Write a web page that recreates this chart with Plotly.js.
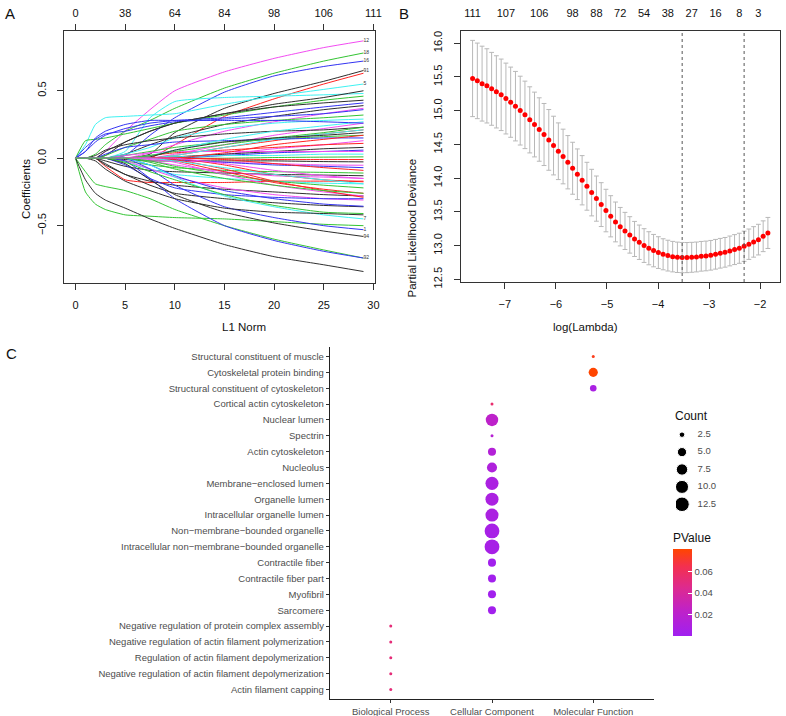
<!DOCTYPE html>
<html>
<head>
<meta charset="utf-8">
<script src="https://cdn.plot.ly/plotly-3.0.1.min.js"></script>
<style>html,body{margin:0;padding:0;background:#fff;}#chart{width:786px;height:716px;}</style>
</head>
<body>
<div id="chart"></div>
<script>
// ---------------- Panel A: lasso coefficient paths ----------------
const l1Norm = [0, 1, 2, 3, 5, 7.5, 10, 15, 20, 25, 29];
const coefPaths = [
  [0,0,0,0.05,0.2,0.36,0.5,0.64,0.74,0.82,0.87],
  [0,0,0.03,0.1,0.2,0.28,0.37,0.52,0.63,0.72,0.78],
  [0,0,0,0,0.02,0.17,0.3,0.49,0.61,0.68,0.72],
  [0,0,0,0,0,0.03,0.19,0.37,0.48,0.57,0.65],
  [0,0,0,0,0,0,0.1,0.31,0.44,0.55,0.63],
  [0,0.1,0.25,0.3,0.31,0.32,0.33,0.4,0.46,0.51,0.55],
  [0,0,0,0,0.05,0.3,0.42,0.45,0.46,0.47,0.48],
  [0,0,0,0.02,0.12,0.2,0.26,0.33,0.4,0.45,0.5],
  [0,0.13,0.14,0.15,0.18,0.22,0.26,0.32,0.38,0.43,0.46],
  [0,0.05,0.12,0.17,0.22,0.26,0.28,0.3,0.34,0.38,0.41],
  [0,0,0,0,0.03,0.1,0.16,0.25,0.31,0.36,0.39],
  [0,0,0,0,0,0.04,0.1,0.2,0.27,0.33,0.37],
  [0,0.08,0.14,0.18,0.2,0.24,0.27,0.29,0.31,0.33,0.36],
  [0,0,0,0.02,0.08,0.14,0.2,0.25,0.28,0.3,0.32],
  [0,0,0,0,0.03,0.08,0.15,0.22,0.26,0.28,0.29],
  [0,0,0,0,0,0,0.03,0.1,0.17,0.22,0.26],
  [0,0,0.02,0.06,0.1,0.13,0.15,0.18,0.2,0.21,0.23],
  [0,0,0,0,0,0,0.02,0.08,0.13,0.18,0.21],
  [0,0,0,0,0.02,0.05,0.08,0.12,0.14,0.16,0.17],
  [0,0,0,0.03,0.08,0.1,0.12,0.13,0.14,0.15,0.15],
  [0,0,0,0,0,0,0,0.03,0.07,0.1,0.13],
  [0,0,0,0,0,0.02,0.04,0.06,0.08,0.1,0.11],
  [0,0,0,0,0,0,0.01,0.03,0.05,0.07,0.08],
  [0,0,0,0,0,0,0,0.02,0.04,0.05,0.06],
  [0,0,0,0,0.02,0.04,0.05,0.05,0.05,0.05,0.05],
  [0,0,0,0,0,0,0.01,0.02,0.02,0.03,0.03],
  [0,0,0,0,0,0,0,0,0.005,0.008,0.01],
  [0,0,0,0.05,0.12,0.2,0.26,0.33,0.38,0.41,0.43],
  [0,0,0,0,0,0.02,0.06,0.14,0.2,0.24,0.27],
  [0,0.05,0.15,0.2,0.25,0.28,0.28,0.28,0.28,0.27,0.26],
  [0,0,0,0,0,0,0.02,0.08,0.14,0.18,0.21],
  [0,0,0,0,0,0.02,0.05,0.1,0.15,0.19,0.23],
  [0,0,0,0,0,0,0,0.04,0.1,0.14,0.17],
  [0,0,0,0,0,0.01,0.06,0.12,0.15,0.17,0.19],
  [0,0,0,0,0,0,0,-0.005,-0.01,-0.01,-0.01],
  [0,0,0,0,-0.01,-0.02,-0.02,-0.02,-0.02,-0.025,-0.027],
  [0,0,0,0,0,-0.01,-0.02,-0.03,-0.04,-0.05,-0.052],
  [0,0,0,0,0,0,-0.01,-0.03,-0.05,-0.06,-0.07],
  [0,0,0,0,0,0,0,-0.01,-0.04,-0.07,-0.09],
  [0,0,0,0,-0.02,-0.05,-0.07,-0.09,-0.1,-0.105,-0.11],
  [0,0,0,-0.02,-0.06,-0.09,-0.1,-0.11,-0.12,-0.125,-0.13],
  [0,0,0,-0.06,-0.16,-0.18,-0.18,-0.18,-0.17,-0.17,-0.17],
  [0,0,0,0,0,-0.02,-0.05,-0.1,-0.13,-0.14,-0.15],
  [0,0,0,0,0,0,0,-0.05,-0.12,-0.16,-0.175],
  [0,0,0,0,-0.03,-0.08,-0.12,-0.15,-0.17,-0.185,-0.19],
  [0,0,0,0,0,-0.02,-0.06,-0.12,-0.17,-0.2,-0.22],
  [0,0,0,0,0,0,-0.02,-0.1,-0.18,-0.23,-0.26],
  [0,0,0,-0.04,-0.12,-0.17,-0.2,-0.23,-0.25,-0.27,-0.28],
  [0,0,0,0,-0.02,-0.08,-0.14,-0.22,-0.27,-0.3,-0.31],
  [0,0,0,0,-0.05,-0.15,-0.22,-0.27,-0.29,-0.3,-0.3],
  [0,0,0,-0.05,-0.12,-0.2,-0.26,-0.3,-0.33,-0.35,-0.36],
  [0,0,0,0,0,-0.05,-0.13,-0.24,-0.3,-0.34,-0.356],
  [0,-0.1,-0.19,-0.21,-0.24,-0.3,-0.38,-0.5,-0.6,-0.68,-0.74],
  [0,-0.25,-0.34,-0.38,-0.42,-0.43,-0.44,-0.45,-0.47,-0.49,-0.5],
  [0,-0.16,-0.26,-0.31,-0.37,-0.45,-0.52,-0.64,-0.73,-0.79,-0.84],
  [0,0,0,0,-0.02,-0.15,-0.3,-0.5,-0.61,-0.69,-0.74],
  [0,0,0,0,-0.04,-0.16,-0.27,-0.4,-0.48,-0.54,-0.58],
  [0,0,0,0,0,-0.08,-0.2,-0.36,-0.44,-0.5,-0.53],
  [0,0,0,0,0,-0.05,-0.14,-0.28,-0.36,-0.42,-0.45],
  [0,0,-0.02,-0.08,-0.17,-0.24,-0.3,-0.37,-0.4,-0.41,-0.42],
  [0,0,0,0,0,0,-0.03,-0.12,-0.2,-0.25,-0.28],
  [0,0,0,0,-0.03,-0.1,-0.16,-0.27,-0.35,-0.4,-0.41],
  [0,0,0,0,0,0,-0.01,-0.08,-0.17,-0.24,-0.29],
  [0,0,0,0,0,0,-0.02,-0.07,-0.12,-0.16,-0.19],
  [0,0,0,0,0,0,0,-0.04,-0.09,-0.13,-0.15],
  [0,0,0,0,0,-0.03,-0.08,-0.15,-0.2,-0.24,-0.26]
];
const pathColorIdx = [5,2,3,0,1,4,4,0,2,3,0,5,3,2,4,5,0,1,2,3,5,1,0,3,5,4,2,0,4,3,4,2,1,0,
                      1,0,5,3,1,2,0,1,5,1,4,2,1,0,5,3,0,3,2,2,0,3,0,3,4,0,5,2,1,4,5,2];
const pathEndLabels = ['12','18','16','91','','5','','','','','','','','','','','','','','','','','','','','','','','','','','','','',
                       '','','','','','','','','','','','','','','','','','','','','','92','94','1','7','','','','','','','',''];
const topDfA = ['0','38','64','84','98','106','111'];
const topDfAPos = [0, 5, 10, 15, 20, 25, 30];

// ---------------- Panel B: cross-validation curve ----------------
const logLambda = [-7.633,-7.540,-7.447,-7.353,-7.260,-7.167,-7.073,-6.980,-6.887,-6.793,
  -6.700,-6.607,-6.513,-6.420,-6.327,-6.233,-6.140,-6.047,-5.953,-5.860,
  -5.767,-5.673,-5.580,-5.487,-5.393,-5.300,-5.207,-5.113,-5.020,-4.927,
  -4.833,-4.740,-4.647,-4.553,-4.460,-4.367,-4.273,-4.180,-4.087,-3.993,
  -3.900,-3.807,-3.713,-3.620,-3.527,-3.433,-3.340,-3.247,-3.153,-3.060,
  -2.967,-2.873,-2.780,-2.687,-2.593,-2.500,-2.407,-2.313,-2.220,-2.127,
  -2.033,-1.940,-1.847];
const deviance = [15.476,15.441,15.400,15.367,15.323,15.278,15.234,15.179,15.125,15.066,
  15.000,14.937,14.863,14.794,14.720,14.646,14.566,14.482,14.398,14.320,
  14.235,14.146,14.057,13.968,13.879,13.785,13.696,13.607,13.519,13.434,
  13.350,13.280,13.217,13.158,13.098,13.049,13.000,12.960,12.925,12.896,
  12.871,12.851,12.836,12.826,12.822,12.822,12.826,12.831,12.841,12.846,
  12.856,12.871,12.886,12.900,12.920,12.940,12.960,12.990,13.020,13.054,
  13.088,13.138,13.187];
const devianceSd = [0.565,0.560,0.555,0.550,0.540,0.535,0.530,0.525,0.520,0.515,
  0.510,0.500,0.490,0.480,0.470,0.460,0.450,0.435,0.420,0.405,
  0.395,0.385,0.375,0.365,0.355,0.345,0.335,0.325,0.315,0.305,
  0.295,0.285,0.275,0.270,0.260,0.255,0.250,0.245,0.240,0.235,
  0.230,0.228,0.226,0.225,0.224,0.223,0.222,0.221,0.220,0.220,
  0.220,0.220,0.220,0.220,0.221,0.222,0.223,0.224,0.225,0.226,
  0.227,0.228,0.230];
const lambdaMin = -3.527;
const lambda1se = -2.313;
const topDfB = ['111','107','106','98','88','72','54','38','27','16','8','3'];
const topDfBPos = [-7.633,-6.980,-6.327,-5.673,-5.207,-4.740,-4.273,-3.807,-3.340,-2.873,-2.407,-2.033];

// ---------------- Panel C: GO enrichment dot plot ----------------
const goTerms = [
  'Actin filament capping',
  'Negative regulation of actin filament depolymerization',
  'Regulation of actin filament depolymerization',
  'Negative regulation of actin filament polymerization',
  'Negative regulation of protein complex assembly',
  'Sarcomere',
  'Myofibril',
  'Contractile fiber part',
  'Contractile fiber',
  'Intracellular non\u2212membrane\u2212bounded organelle',
  'Non\u2212membrane\u2212bounded organelle',
  'Intracellular organelle lumen',
  'Organelle lumen',
  'Membrane\u2212enclosed lumen',
  'Nucleolus',
  'Actin cytoskeleton',
  'Spectrin',
  'Nuclear lumen',
  'Cortical actin cytoskeleton',
  'Structural constituent of cytoskeleton',
  'Cytoskeletal protein binding',
  'Structural constituent of muscle'
];
const goOntology = [
  'Biological Process','Biological Process','Biological Process','Biological Process','Biological Process',
  'Cellular Component','Cellular Component','Cellular Component','Cellular Component','Cellular Component',
  'Cellular Component','Cellular Component','Cellular Component','Cellular Component','Cellular Component',
  'Cellular Component','Cellular Component','Cellular Component','Cellular Component',
  'Molecular Function','Molecular Function','Molecular Function'
];
const goCount = [2,2,2,2,2, 4,4,4,4,13,13,10,10,10,6,4,2,9,2, 3,5,2];
const goPValue = [0.052,0.052,0.052,0.052,0.052,
  0.002,0.002,0.002,0.002,0.006,0.006,0.009,0.009,0.009,0.012,0.015,0.017,0.022,0.055,
  0.008,0.0806,0.075];
const ontologyOrder = ['Biological Process','Cellular Component','Molecular Function'];
const countBreaks = [2.5, 5.0, 7.5, 10.0, 12.5];
const pvalueTicks = [0.02, 0.04, 0.06];

// ---------------- drawing ----------------
const W = 786, H = 716;
const px = v => v / W;
const py = v => 1 - v / H;
const FONT = 'Liberation Sans, Arial, Helvetica, sans-serif';
const pal = ['#2e2e2e', '#ff2222', '#33c433', '#3434f2', '#3ef2f2', '#f24cf2'];

const traces = [];
coefPaths.forEach((p, i) => {
  traces.push({
    x: l1Norm, y: p, type: 'scatter', mode: 'lines', xaxis: 'x', yaxis: 'y',
    line: {color: pal[pathColorIdx[i]], width: 1, shape: 'spline', smoothing: 0.5},
    hoverinfo: 'skip', showlegend: false
  });
});
const lbX = [], lbY = [], lbT = [];
coefPaths.forEach((p, i) => {
  if (pathEndLabels[i]) { lbX.push(l1Norm[l1Norm.length - 1]); lbY.push(p[p.length - 1]); lbT.push(pathEndLabels[i]); }
});
traces.push({x: lbX, y: lbY, text: lbT, mode: 'text', type: 'scatter', xaxis: 'x', yaxis: 'y',
  textposition: 'middle right', textfont: {size: 5, color: '#333', family: FONT}, showlegend: false, hoverinfo: 'skip'});
traces.push({x: [], y: [], type: 'scatter', xaxis: 'x2', yaxis: 'y', showlegend: false});

// Panel B
traces.push({
  x: logLambda, y: deviance, type: 'scatter', mode: 'markers', xaxis: 'x3', yaxis: 'y2',
  marker: {color: '#ff0000', size: 5, opacity: 1},
  error_y: {type: 'data', array: devianceSd, visible: true, color: '#b8b8b8', thickness: 1, width: 2.4},
  showlegend: false, hoverinfo: 'skip'
});
traces.push({x: [], y: [], type: 'scatter', xaxis: 'x4', yaxis: 'y2', showlegend: false});

// Panel C
const cMin = Math.min(...goCount), cMax = Math.max(...goCount);
const sizeOf = c => 3 + 11.8 * Math.sqrt(Math.max(0, (c - cMin) / (cMax - cMin)));
const pScale = [[0, '#a020f0'], [0.3, '#c022c6'], [0.55, '#dd2a90'], [0.8, '#f3304f'], [1, '#ff4500']];
traces.push({
  x: goOntology, y: goTerms, type: 'scatter', mode: 'markers', xaxis: 'x5', yaxis: 'y3',
  marker: {
    size: goCount.map(sizeOf), sizemode: 'diameter', color: goPValue, opacity: 1,
    colorscale: pScale, cmin: 0.0004, cmax: 0.0806, line: {width: 0},
    showscale: true,
    colorbar: {
      x: px(673), xanchor: 'left', y: py(583), yanchor: 'middle',
      thickness: 19, thicknessmode: 'pixels', len: 106, lenmode: 'pixels',
      xpad: 0, ypad: 0, outlinewidth: 0,
      tickvals: pvalueTicks, ticktext: pvalueTicks.map(v => v.toFixed(2)),
      ticks: 'inside', ticklen: 4, tickcolor: '#ffffff', tickwidth: 1,
      tickfont: {size: 9.5, color: '#4d4d4d', family: FONT},
      title: {text: 'PValue', side: 'top', font: {size: 12, color: '#111', family: FONT}}
    }
  },
  showlegend: false, hoverinfo: 'skip'
});
// Count size legend
traces.push({
  x: countBreaks.map(() => 0.5), y: countBreaks.map(v => v.toFixed(1)), type: 'scatter', mode: 'markers',
  xaxis: 'x6', yaxis: 'y4',
  marker: {size: countBreaks.map(sizeOf), sizemode: 'diameter', color: '#000', opacity: 1},
  showlegend: false, hoverinfo: 'skip'
});
traces.push({
  x: countBreaks.map(() => 1.8), y: countBreaks.map(v => v.toFixed(1)), text: countBreaks.map(v => v.toFixed(1)),
  type: 'scatter', mode: 'text', textposition: 'middle right', xaxis: 'x6', yaxis: 'y4',
  textfont: {size: 9.5, color: '#4d4d4d', family: FONT}, showlegend: false, hoverinfo: 'skip'
});

const rAxis = {
  showline: true, linecolor: '#333', linewidth: 1, mirror: true, showgrid: false, zeroline: false,
  ticks: 'outside', ticklen: 6, tickcolor: '#333', tickfont: {size: 11, color: '#111', family: FONT}
};

const layout = {
  width: W, height: H, margin: {l: 0, r: 0, t: 0, b: 0},
  paper_bgcolor: '#fff', plot_bgcolor: '#fff', showlegend: false,
  font: {family: FONT},
  xaxis: Object.assign({}, rAxis, {domain: [px(64), px(375)], range: [-1.16, 30.16], anchor: 'y',
    tickvals: [0, 5, 10, 15, 20, 25, 30], ticklabelstandoff: 6}),
  xaxis2: Object.assign({}, rAxis, {overlaying: 'x', side: 'top', anchor: 'y', range: [-1.16, 30.16],
    tickvals: topDfAPos, ticktext: topDfA, mirror: false, ticklabelstandoff: 3}),
  yaxis: Object.assign({}, rAxis, {domain: [py(283), py(31)], range: [-0.925, 0.943], anchor: 'x',
    tickvals: [-0.5, 0, 0.5], tickformat: '.1f', tickangle: -90, ticklabelstandoff: 7}),
  xaxis3: Object.assign({}, rAxis, {domain: [px(461), px(780)], range: [-7.86, -1.61], anchor: 'y2',
    tickvals: [-7, -6, -5, -4, -3, -2], ticklabelstandoff: 6}),
  xaxis4: Object.assign({}, rAxis, {overlaying: 'x3', side: 'top', anchor: 'y2', range: [-7.86, -1.61],
    tickvals: topDfBPos, ticktext: topDfB, ticks: '', mirror: false, ticklabelstandoff: 9}),
  yaxis2: Object.assign({}, rAxis, {domain: [py(282), py(31)], range: [12.46, 16.18], anchor: 'x3',
    tickvals: [12.5, 13, 13.5, 14, 14.5, 15, 15.5, 16], tickformat: '.1f', tickangle: -90, ticklabelstandoff: 8}),
  xaxis5: {domain: [px(330), px(654)], anchor: 'y3', type: 'category', categoryarray: ontologyOrder,
    categoryorder: 'array', range: [-0.6, 2.6], showline: true, linecolor: '#222', linewidth: 1.2,
    showgrid: false, zeroline: false, ticks: 'outside', ticklen: 3, tickcolor: '#333',
    tickfont: {size: 9.5, color: '#4d4d4d', family: FONT}},
  yaxis3: {domain: [py(699), py(347)], anchor: 'x5', type: 'category', categoryarray: goTerms,
    categoryorder: 'array', range: [-0.6, 21.6], showline: true, linecolor: '#222', linewidth: 1.2,
    showgrid: false, zeroline: false, ticks: 'outside', ticklen: 3, tickcolor: '#333',
    tickfont: {size: 9.5, color: '#4d4d4d', family: FONT}},
  xaxis6: {domain: [px(676), px(736)], range: [0, 5], anchor: 'y4', visible: false},
  yaxis4: {domain: [py(513), py(426)], anchor: 'x6', type: 'category',
    categoryarray: countBreaks.map(v => v.toFixed(1)), categoryorder: 'array', range: [4.5, -0.5], visible: false},
  shapes: [lambdaMin, lambda1se].map(v => ({type: 'line', xref: 'x3', yref: 'y2 domain', x0: v, x1: v, y0: 0, y1: 1,
    line: {color: '#555', width: 1, dash: 'dot'}})),
  annotations: [
    {text: 'A', x: px(3), y: py(13), xref: 'paper', yref: 'paper', xanchor: 'left', yanchor: 'middle', showarrow: false, font: {size: 15, color: '#111'}},
    {text: 'B', x: px(397), y: py(13), xref: 'paper', yref: 'paper', xanchor: 'left', yanchor: 'middle', showarrow: false, font: {size: 15, color: '#111'}},
    {text: 'C', x: px(4), y: py(354), xref: 'paper', yref: 'paper', xanchor: 'left', yanchor: 'middle', showarrow: false, font: {size: 15, color: '#111'}},
    {text: 'L1 Norm', x: px(220), y: py(327), xref: 'paper', yref: 'paper', showarrow: false, font: {size: 11.5, color: '#111'}},
    {text: 'Coefficients', x: px(18), y: py(157), xref: 'paper', yref: 'paper', showarrow: false, textangle: -90, font: {size: 11.5, color: '#111'}},
    {text: 'log(Lambda)', x: px(620), y: py(327), xref: 'paper', yref: 'paper', showarrow: false, font: {size: 11.5, color: '#111'}},
    {text: 'Partial Likelihood Deviance', x: px(412), y: py(157), xref: 'paper', yref: 'paper', showarrow: false, textangle: -90, font: {size: 11.5, color: '#111'}},
    {text: 'Count', x: px(673), y: py(416), xref: 'paper', yref: 'paper', xanchor: 'left', showarrow: false, font: {size: 12, color: '#111'}}
  ]
};

Plotly.newPlot('chart', traces, layout, {staticPlot: true, displayModeBar: false});
</script>
</body>
</html>
